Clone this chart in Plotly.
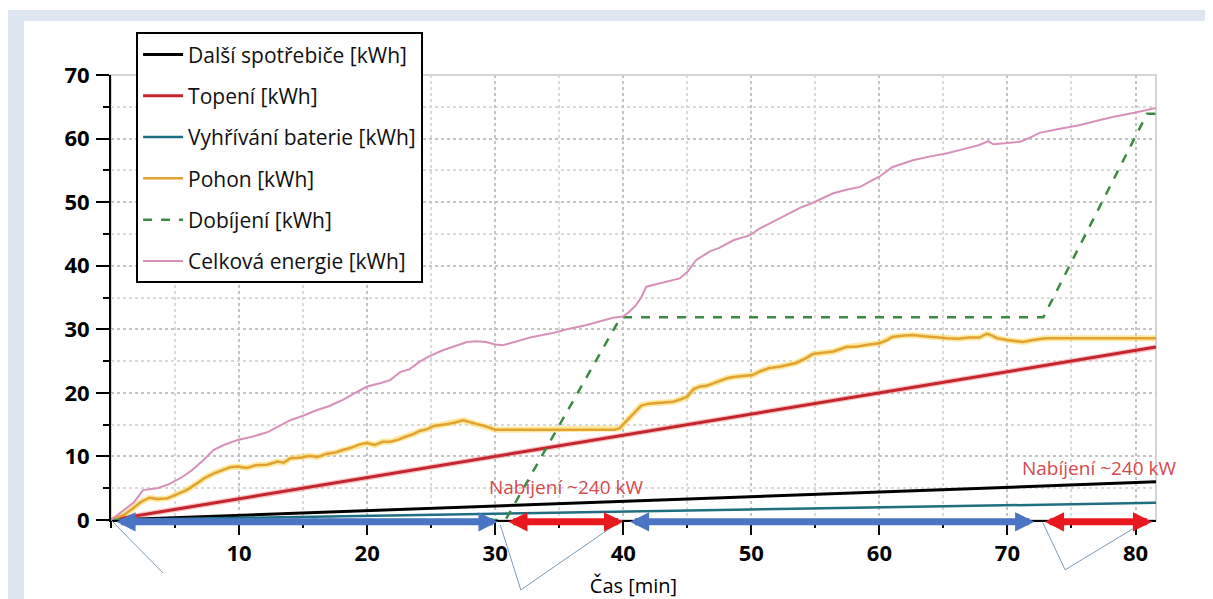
import plotly.graph_objects as go

# ---------------- data ----------------
time_lin = [0, 81.6]
dalsi_spotrebice = [0, 6.0]
topeni = [0, 27.2]
vyhrivani_baterie = [0, 2.7]

pohon_t = [0, 1, 1.7, 2.3, 3, 3.6, 4.4, 5.2, 5.9, 6.6, 7.3, 8, 8.7, 9.3, 9.9, 10.6, 11.3, 12.2, 13, 13.5,
           14, 14.8, 15.5, 16.1, 16.8, 17.5, 18.1, 18.8, 19.4, 20, 20.6, 21.2, 21.8, 22.4, 23, 23.6, 24.1,
           24.7, 25.2, 25.7, 26.3, 26.8, 27.5, 28, 28.6, 29.3, 30, 30.6, 35, 39.3, 39.7, 40.3, 40.8, 41.4,
           42, 43, 43.9, 44.5, 45, 45.5, 46, 46.5, 47, 47.6, 48.1, 48.6, 49.2, 50.1, 50.7, 51.4, 52.2, 53,
           53.5, 54.2, 54.8, 55.6, 56.4, 57.4, 58.3, 59.2, 60, 60.6, 61, 61.8, 62.6, 63.5, 64.4, 65.3, 66.2,
           67, 67.8, 68.4, 68.8, 69.2, 70, 71.2, 72, 73, 75, 78, 81.6]
pohon = [0, 0.8, 1.8, 2.8, 3.5, 3.3, 3.4, 4.1, 4.7, 5.6, 6.6, 7.3, 7.8, 8.3, 8.4, 8.2, 8.6, 8.7, 9.2, 9.0,
         9.7, 9.8, 10.1, 9.9, 10.4, 10.6, 11.0, 11.4, 11.9, 12.1, 11.8, 12.3, 12.3, 12.6, 13.1, 13.5, 14.0,
         14.3, 14.8, 14.9, 15.1, 15.3, 15.7, 15.4, 15.1, 14.7, 14.2, 14.2, 14.2, 14.2, 14.4, 15.7, 16.8, 18.0,
         18.3, 18.4, 18.6, 19.0, 19.4, 20.6, 21.0, 21.1, 21.5, 21.9, 22.3, 22.5, 22.6, 22.8, 23.4, 23.9, 24.1,
         24.5, 24.7, 25.4, 26.1, 26.3, 26.5, 27.2, 27.3, 27.6, 27.8, 28.3, 28.8, 29.0, 29.1, 28.9, 28.7, 28.6,
         28.5, 28.7, 28.7, 29.3, 29.0, 28.6, 28.3, 28.0, 28.3, 28.6, 28.6, 28.6, 28.6]

dobijeni_t = [0, 30.8, 39.8, 72.8, 80.9, 81.6]
dobijeni = [0, 0, 31.9, 31.9, 63.9, 63.9]

celkova_t = [0, 1, 1.8, 2.5, 3.6, 4.5, 5.6, 6.3, 7.2, 8, 8.8, 9.9, 11, 12.2, 13, 14, 15, 16.1, 17, 18.1,
             19, 20, 21, 21.8, 22.6, 23.3, 24.1, 24.8, 25.9, 26.8, 27.8, 28.5, 29.3, 30, 30.6, 31.5, 32.9,
             34.5, 35.6, 37, 38.2, 39.2, 40, 40.5, 41, 41.4, 41.8, 42.9, 44.4, 45, 45.7, 46.8, 47.5, 48.6,
             49.9, 50.6, 51.2, 52.2, 53, 53.8, 54.8, 55.6, 56.4, 57.5, 58.5, 59.3, 60, 61, 61.8, 62.6, 64,
             65.3, 66.5, 67.8, 68.5, 68.9, 70, 71, 71.8, 72.5, 74, 75.6, 77, 78.2, 80, 81.6]
celkova = [0, 1.5, 2.8, 4.7, 5.0, 5.6, 6.8, 7.8, 9.4, 11.0, 11.8, 12.6, 13.1, 13.8, 14.6, 15.7, 16.4, 17.3,
           17.9, 18.9, 19.9, 21.0, 21.5, 22.0, 23.3, 23.7, 24.9, 25.7, 26.7, 27.3, 28.0, 28.1, 28.0, 27.6,
           27.5, 28.0, 28.8, 29.4, 30.0, 30.6, 31.2, 31.8, 32.0, 32.8, 33.8, 35.0, 36.7, 37.3, 38.0, 39.0,
           40.9, 42.3, 42.8, 44.0, 44.8, 45.8, 46.4, 47.4, 48.3, 49.1, 49.9, 50.7, 51.4, 52.0, 52.4, 53.3,
           54.0, 55.5, 56.1, 56.6, 57.2, 57.7, 58.3, 59.0, 59.6, 59.1, 59.3, 59.5, 60.2, 60.9, 61.5, 62.1,
           62.8, 63.4, 64.1, 64.8]

series_names = ["Další spotřebiče [kWh]", "Topení [kWh]", "Vyhřívání baterie [kWh]",
                "Pohon [kWh]", "Dobíjení [kWh]", "Celková energie [kWh]"]

x_ticks = [10, 20, 30, 40, 50, 60, 70, 80]
y_ticks = [0, 10, 20, 30, 40, 50, 60, 70]

drive_intervals = [(0.3, 30.2), (40.4, 72.1)]      # blue double arrows
charge_intervals = [(30.9, 40.0), (72.8, 81.3)]    # red double arrows
charge_labels = [(35.6, 5.2, "Nabíjení ~240 kW"), (77.2, 8.2, "Nabíjení ~240 kW")]
# callout lines: (x in minutes, y in paper fraction)
callouts = [[(0, 0), (4.06, -0.119)],
            [(30.4, -0.011), (32.0, -0.157), (39.9, 0.0)],
            [(72.75, -0.005), (74.5, -0.112), (79.9, -0.018)]]

# ---------------- figure ----------------
FONT = "Open Sans"
fig = go.Figure()

# glows (no legend)
fig.add_trace(go.Scatter(x=time_lin, y=topeni, mode="lines", showlegend=False, hoverinfo="skip",
                         line=dict(color="rgba(240,120,120,0.45)", width=5.5)))
fig.add_trace(go.Scatter(x=pohon_t, y=pohon, mode="lines", showlegend=False, hoverinfo="skip",
                         line=dict(color="rgba(250,215,80,0.55)", width=6)))

fig.add_trace(go.Scatter(x=time_lin, y=dalsi_spotrebice, name=series_names[0], legendgroup="a",
                         mode="lines", line=dict(color="#000000", width=3)))
fig.add_trace(go.Scatter(x=time_lin, y=topeni, name=series_names[1], legendgroup="b",
                         mode="lines", line=dict(color="#c4262c", width=3)))
fig.add_trace(go.Scatter(x=time_lin, y=vyhrivani_baterie, name=series_names[2], legendgroup="c",
                         mode="lines", line=dict(color="#1f6f80", width=2.5)))
fig.add_trace(go.Scatter(x=pohon_t, y=pohon, name=series_names[3], legendgroup="d",
                         mode="lines", line=dict(color="#e2a232", width=2.5)))
fig.add_trace(go.Scatter(x=dobijeni_t, y=dobijeni, name=series_names[4], legendgroup="e",
                         mode="lines", line=dict(color="#3a8a42", width=2.5, dash="dash")))
fig.add_trace(go.Scatter(x=celkova_t, y=celkova, name=series_names[5], legendgroup="f",
                         mode="lines", line=dict(color="#d890ba", width=2)))

annotations = []
for (a, b) in drive_intervals:
    annotations.append(dict(x=b, y=-0.004, xref="x", yref="paper", ax=a, ay=0, axref="x", ayref="pixel",
                            text="", showarrow=True, arrowhead=2, arrowsize=0.55, arrowwidth=7,
                            arrowside="end+start", startarrowhead=2, startarrowsize=0.55,
                            arrowcolor="#4a74c4", standoff=0, startstandoff=0))
for (a, b) in charge_intervals:
    annotations.append(dict(x=b, y=-0.004, xref="x", yref="paper", ax=a, ay=0, axref="x", ayref="pixel",
                            text="", showarrow=True, arrowhead=2, arrowsize=0.55, arrowwidth=7,
                            arrowside="end+start", startarrowhead=2, startarrowsize=0.55,
                            arrowcolor="#e8191e", standoff=0, startstandoff=0))
for (xv, yv, t) in charge_labels:
    annotations.append(dict(x=xv, y=yv, xref="x", yref="y", text=t, showarrow=False,
                            font=dict(family=FONT, size=19, color="#d44a50")))

shapes = [
    # outer light-blue band and white panel
    dict(type="rect", xref="paper", yref="paper", x0=-0.12, x1=1.06, y0=-0.2, y1=1.146,
         fillcolor="#dde6f1", line=dict(width=0), layer="below"),
    dict(type="rect", xref="paper", yref="paper", x0=-0.0833, x1=1.0507, y0=-0.2, y1=1.1213,
         fillcolor="#ffffff", line=dict(width=0), layer="below"),
    # light grey frame (top / right)
    dict(type="rect", xref="paper", yref="paper", x0=0, x1=1, y0=0, y1=1,
         line=dict(color="#c8c8c8", width=1.5), layer="below"),
]
for pts in callouts:
    for p, q in zip(pts[:-1], pts[1:]):
        shapes.append(dict(type="line", xref="x", yref="paper", x0=p[0], y0=p[1], x1=q[0], y1=q[1],
                           line=dict(color="#7d9ab4", width=1)))

fig.update_layout(
    width=1205, height=591,
    paper_bgcolor="#ffffff", plot_bgcolor="#ffffff",
    margin=dict(l=103, r=57, t=67, b=79, autoexpand=False),
    font=dict(family=FONT, color="#000000"),
    showlegend=True,
    legend=dict(x=0.024, y=1.096, xanchor="left", yanchor="top", bgcolor="#ffffff",
                bordercolor="#000000", borderwidth=2, font=dict(family=FONT, size=21, color="#111111"),
                tracegroupgap=11, itemwidth=40),
    annotations=annotations,
    shapes=shapes,
)

fig.update_xaxes(range=[0, 81.6], tickvals=x_ticks, showline=True, linecolor="#000000", linewidth=2,
                 ticks="outside", ticklen=13, tickwidth=2, tickcolor="#000000",
                 tickfont=dict(family=FONT, size=22, color="#000000", weight="bold"),
                 showgrid=True, gridcolor="#c4c4c4", griddash="dot", gridwidth=1.5, zeroline=False,
                 minor=dict(dtick=5, tick0=0, ticks="outside", ticklen=6, tickwidth=2, tickcolor="#000000",
                            showgrid=True, gridcolor="#dadada", griddash="dot", gridwidth=1.5),
                 title=dict(text="Čas [min]", font=dict(family=FONT, size=20, color="#000000"), standoff=15))
fig.update_yaxes(range=[0, 70], tickvals=y_ticks, showline=True, linecolor="#000000", linewidth=2,
                 ticks="outside", ticklen=13, tickwidth=2, tickcolor="#000000", ticklabelstandoff=2,
                 tickfont=dict(family=FONT, size=22, color="#000000", weight="bold"),
                 showgrid=True, gridcolor="#c4c4c4", griddash="dot", gridwidth=1.5, zeroline=False,
                 minor=dict(dtick=5, tick0=0, ticks="outside", ticklen=6, tickwidth=2, tickcolor="#000000",
                            showgrid=True, gridcolor="#dadada", griddash="dot", gridwidth=1.5))

fig.write_html("out.html")
